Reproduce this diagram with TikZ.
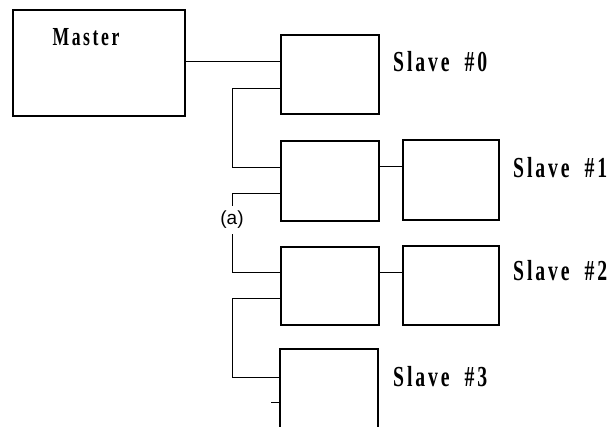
\documentclass[tikz,border=0pt]{standalone}
\usepackage{fontspec}
\newfontfamily\lblfont[FakeStretch=0.68,LetterSpace=10,BoldFont={Liberation Serif Bold}]{Liberation Serif}
\newfontfamily\afont{Liberation Sans}
\begin{document}
\begin{tikzpicture}[x=1pt,y=-1pt,
  box/.style={draw,line width=1.7pt,rectangle,inner sep=0pt,anchor=north west},
  wire/.style={line width=0.7pt},
  lbl/.style={inner sep=0pt,anchor=west,font={\fontsize{29}{29}\selectfont\lblfont\bfseries}}]
\useasboundingbox (0,0) rectangle (614,427);
% boxes
\node[box,minimum width=172pt,minimum height=106pt] (m) at (12,9) {};
\node[box,minimum width=98pt,minimum height=79pt] (s0) at (280,34) {};
\node[box,minimum width=98pt,minimum height=80pt] (s1) at (280,140) {};
\node[box,minimum width=96pt,minimum height=80pt] (p1) at (402,139) {};
\node[box,minimum width=98pt,minimum height=78pt] (s2) at (280,246) {};
\node[box,minimum width=96pt,minimum height=79pt] (p2) at (402,245) {};
\coordinate (s3a) at (280,440);
\coordinate (s3b) at (280,349);
\coordinate (s3c) at (378,349);
\coordinate (s3d) at (378,440);
\draw[line width=1.7pt] (s3a) -- (s3b) -- (s3c) -- (s3d);
% texts
\node[inner sep=0pt,font={\fontsize{26}{26}\selectfont\lblfont\bfseries}] (mt) at (86,37) {Master};
\node[lbl] (t0) at (393,62) {Slave \hspace{7pt}\#0};
\node[lbl] (t1) at (513,168) {Slave \hspace{7pt}\#1};
\node[lbl] (t2) at (513,271) {Slave \hspace{7pt}\#2};
\node[lbl] (t3) at (393,377) {Slave \hspace{7pt}\#3};
\node[inner sep=0pt,font={\fontsize{19}{19}\selectfont\afont},minimum height=28pt] (a) at (232,220) {(a)};
% bus x position
\coordinate (bx) at (232,0);
% connectors
\draw[wire] (m.east|-0,61) -- (s0.west|-0,61);
\draw[wire] (s0.west|-0,88) -| (bx|-0,167) -- (s1.west|-0,167);
\draw[wire] (s1.west|-0,193) -| (a.north);
\draw[wire] (a.south) |- (s2.west|-0,272);
\draw[wire] (s2.west|-0,298) -| (bx|-0,377) -- (s3b|-0,377);
\coordinate (tk) at (271,402);
\draw[wire] (tk) -- (s3b|-tk);
\draw[wire] (s1.east|-0,166) -- (p1.west|-0,166);
\draw[wire] (s2.east|-0,272) -- (p2.west|-0,272);
\end{tikzpicture}
\end{document}
